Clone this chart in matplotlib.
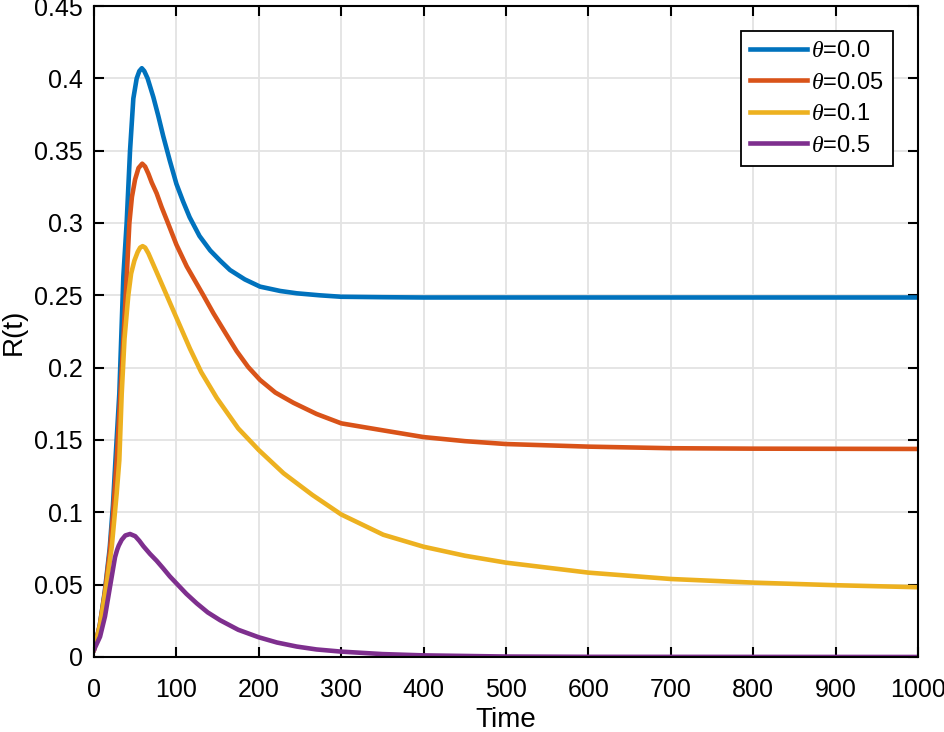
import numpy as np
import matplotlib
matplotlib.use("Agg")
import matplotlib.pyplot as plt
from matplotlib.ticker import FuncFormatter, MultipleLocator

plt.rcParams['font.family'] = ['Liberation Sans', 'DejaVu Sans']
plt.rcParams['mathtext.fontset'] = 'custom'
plt.rcParams['mathtext.it'] = 'Liberation Serif:italic'
plt.rcParams['mathtext.rm'] = 'Liberation Sans'

# values
t_a = [0, 7, 13, 19, 23, 26, 30.7, 35.6, 39.6, 43.7, 47.7, 51.8, 55, 58, 61, 65,
       72, 78, 84, 92, 100, 108, 116, 128, 141, 153, 165, 183, 201.5, 226, 246, 274,
       300, 350, 400, 600, 800, 1000]
r_a = [0.005, 0.022, 0.045, 0.075, 0.105, 0.136, 0.182, 0.263, 0.300, 0.350, 0.386,
       0.400, 0.405, 0.407, 0.405, 0.400, 0.387, 0.374, 0.360, 0.343, 0.327, 0.315,
       0.304, 0.291, 0.281, 0.274, 0.2675, 0.261, 0.256, 0.253, 0.2514, 0.250,
       0.249, 0.2487, 0.2485, 0.2485, 0.2485, 0.2485]

t_b = [0, 7, 13, 19, 23, 27.5, 32, 39.7, 42.9, 46, 49.8, 54, 58.5, 62, 66, 70, 76,
       82, 89, 100, 112.5, 132.7, 145, 160, 173, 187, 201.5, 220, 242, 270, 300, 347,
       400, 450, 500, 600, 700, 800, 1000]
r_b = [0.005, 0.022, 0.044, 0.072, 0.098, 0.136, 0.182, 0.263, 0.300, 0.318, 0.330,
       0.338, 0.341, 0.339, 0.334, 0.328, 0.3205, 0.311, 0.301, 0.285, 0.270, 0.250,
       0.2375, 0.2235, 0.2115, 0.2005, 0.1915, 0.1828, 0.1757, 0.168, 0.1615, 0.157,
       0.152, 0.1492, 0.1472, 0.1454, 0.1443, 0.1440, 0.1438]

t_c = [0, 7.3, 15.4, 21.5, 27.5, 30.7, 33.6, 37, 41.6, 45, 49, 53, 56, 59, 62, 66,
       76, 92, 105, 116.5, 130, 149, 175, 200, 230, 265, 300, 351, 400, 450, 500,
       600, 700, 800, 900, 1000]
r_c = [0.005, 0.022, 0.051, 0.076, 0.113, 0.136, 0.182, 0.220, 0.250, 0.265, 0.274,
       0.280, 0.283, 0.284, 0.283, 0.279, 0.266, 0.245, 0.228, 0.213, 0.197, 0.179,
       0.158, 0.143, 0.127, 0.112, 0.0985, 0.0845, 0.0762, 0.0700, 0.0652, 0.0583,
       0.0539, 0.0514, 0.0496, 0.0482]

t_d = [0, 7.3, 13.3, 19.4, 25.5, 28, 30, 33.6, 38, 43.7, 50, 55, 60, 68, 76, 84,
       92, 100, 112, 124.6, 138, 153, 175, 200, 222, 246, 270, 300, 350, 400, 500,
       600, 1000]
r_d = [0.005, 0.014, 0.028, 0.0486, 0.069, 0.074, 0.077, 0.081, 0.084, 0.085,
       0.0835, 0.0803, 0.0765, 0.0712, 0.0665, 0.0612, 0.0557, 0.0509, 0.0437,
       0.0371, 0.0308, 0.0254, 0.0188, 0.0136, 0.0100, 0.0072, 0.0052, 0.0037,
       0.0020, 0.0011, 0.0003, 0.0001, 0.0]

labels = [r'$\theta$=0.0', r'$\theta$=0.05', r'$\theta$=0.1', r'$\theta$=0.5']
colors = ['#0072BD', '#D95319', '#EDB120', '#7E2F8E']

fig = plt.figure(figsize=(9.44, 7.32), dpi=100)
ax = fig.add_axes([0.0996, 0.1025, 0.8729, 0.8893])

for t, r, c, lab in zip([t_a, t_b, t_c, t_d], [r_a, r_b, r_c, r_d], colors, labels):
    ax.plot(t, r, color=c, lw=3.3, label=lab, solid_joinstyle='round')

ax.set_xlim(0, 1000)
ax.set_ylim(0, 0.45)
ax.xaxis.set_major_locator(MultipleLocator(100))
ax.yaxis.set_major_locator(MultipleLocator(0.05))
ax.yaxis.set_major_formatter(FuncFormatter(lambda v, p: '%g' % round(v, 2)))

ax.grid(True, color='#e3e3e3', lw=1.3)
ax.set_axisbelow(True)
for s in ax.spines.values():
    s.set_linewidth(1.5)
ax.tick_params(direction='in', length=7, width=1.5, top=True, right=True,
               labelsize=18)
ax.tick_params(axis='x', pad=15)
ax.tick_params(axis='y', pad=8)

ax.set_xlabel('Time', fontsize=20, labelpad=4)
ax.set_ylabel('R(t)', fontsize=20, labelpad=5)

leg = ax.legend(loc='upper right', fontsize=17, fancybox=False, framealpha=1,
                edgecolor='black', borderaxespad=1.05, handlelength=2.4,
                handletextpad=0.2, labelspacing=0.4, borderpad=0.4)
leg.get_frame().set_linewidth(1.3)

fig.savefig('out.png', dpi=100)
